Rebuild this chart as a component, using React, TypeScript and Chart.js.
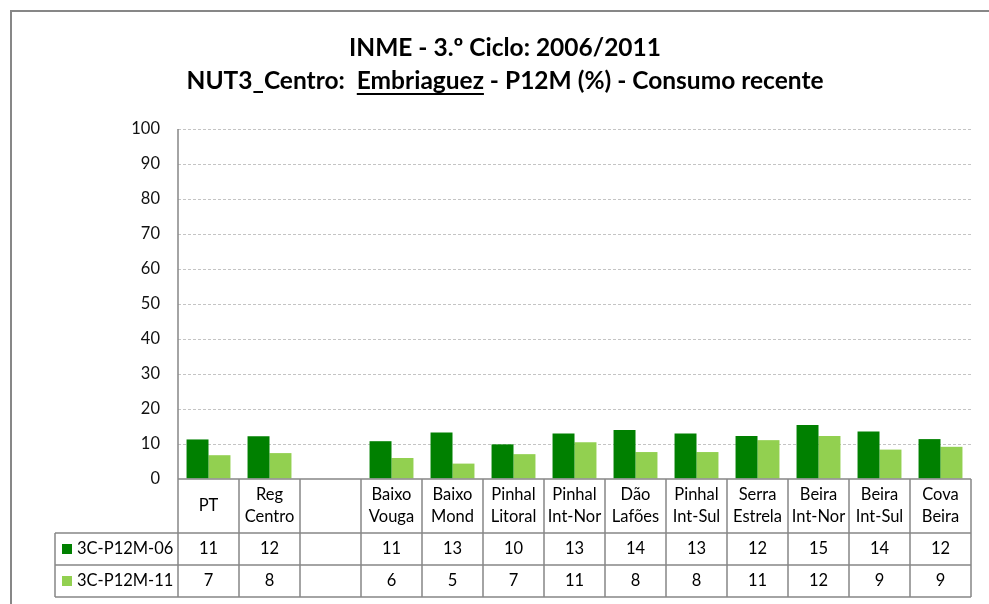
import React, { useEffect, useRef } from "react";
import { Chart, registerables } from "chart.js";

Chart.register(...registerables);

const categoryLines: string[][] = [
  ["PT"],
  ["Reg", "Centro"],
  [""],
  ["Baixo", "Vouga"],
  ["Baixo", "Mond"],
  ["Pinhal", "Litoral"],
  ["Pinhal", "Int-Nor"],
  ["Dão", "Lafões"],
  ["Pinhal", "Int-Sul"],
  ["Serra", "Estrela"],
  ["Beira", "Int-Nor"],
  ["Beira", "Int-Sul"],
  ["Cova", "Beira"],
];

const series06Name = "3C-P12M-06";
const series11Name = "3C-P12M-11";

const values06: (number | null)[] = [11.3, 12.2, null, 10.8, 13.3, 9.9, 13.0, 14.0, 13.0, 12.3, 15.4, 13.6, 11.4];
const values11: (number | null)[] = [6.8, 7.4, null, 6.0, 4.4, 7.1, 10.5, 7.7, 7.7, 11.1, 12.3, 8.4, 9.2];

const table06: string[] = ["11", "12", "", "11", "13", "10", "13", "14", "13", "12", "15", "14", "12"];
const table11: string[] = ["7", "8", "", "6", "5", "7", "11", "8", "8", "11", "12", "9", "9"];

const titleLine1 = "INME - 3.º Ciclo: 2006/2011";
const titleLine2Parts = ["NUT3_Centro:  ", "Embriaguez", " - P12M (%) - Consumo recente"];

const yTicks = { min: 0, max: 100, step: 10 };

const DARK = "#008000";
const LIGHT = "#92D050";
const LINE = "#878787";
const FONT = "Lato, 'Open Sans', sans-serif";

const W = 989;
const H = 604;

const tablePlugin = {
  id: "tablePlugin",
  afterDraw(chart: any) {
    const ctx: CanvasRenderingContext2D = chart.ctx;
    const area = chart.chartArea;
    const n = categoryLines.length;
    const cw = (area.right - area.left) / n;
    const headerBottom = area.bottom + 54;
    const row1Bottom = headerBottom + 32;
    const row2Bottom = row1Bottom + 32;
    const legendLeft = 55;

    ctx.save();
    // outer border
    ctx.strokeStyle = LINE;
    ctx.lineWidth = 2;
    ctx.beginPath();
    ctx.moveTo(11, H);
    ctx.lineTo(11, 11);
    ctx.lineTo(W, 11);
    ctx.stroke();

    // titles
    ctx.fillStyle = "#000";
    ctx.font = `bold 24.5px ${FONT}`;
    ctx.textBaseline = "middle";
    ctx.textAlign = "left";
    const cx = 505;
    const w1 = ctx.measureText(titleLine1).width;
    ctx.fillText(titleLine1, cx - w1 / 2, 48);
    const widths = titleLine2Parts.map((p) => ctx.measureText(p).width);
    const total = widths.reduce((a, b) => a + b, 0);
    let x = cx - total / 2;
    titleLine2Parts.forEach((p, i) => {
      ctx.fillText(p, x, 81);
      if (i === 1) {
        ctx.fillRect(x, 93, widths[i], 2);
      }
      x += widths[i];
    });

    // table lines
    ctx.strokeStyle = LINE;
    ctx.lineWidth = 1.5;
    ctx.beginPath();
    ctx.moveTo(area.left, area.top);
    ctx.lineTo(area.left, row2Bottom);
    ctx.moveTo(area.left, area.bottom);
    ctx.lineTo(area.right, area.bottom);
    [headerBottom, row1Bottom, row2Bottom].forEach((yy) => {
      ctx.moveTo(legendLeft, yy);
      ctx.lineTo(area.right, yy);
    });
    ctx.moveTo(legendLeft, headerBottom);
    ctx.lineTo(legendLeft, row2Bottom);
    for (let i = 1; i <= n; i++) {
      const xx = area.left + i * cw;
      ctx.moveTo(xx, area.bottom);
      ctx.lineTo(xx, row2Bottom);
    }
    ctx.stroke();

    // header labels and values
    ctx.fillStyle = "#000";
    ctx.font = `16.5px ${FONT}`;
    ctx.textAlign = "center";
    const xScale = chart.scales.x;
    categoryLines.forEach((lines, i) => {
      const xc = xScale.getPixelForValue(i);
      if (lines.length === 1) {
        ctx.fillText(lines[0], xc, (area.bottom + headerBottom) / 2);
      } else {
        ctx.fillText(lines[0], xc, area.bottom + 16);
        ctx.fillText(lines[1], xc, area.bottom + 38);
      }
      ctx.fillText(table06[i], xc, (headerBottom + row1Bottom) / 2);
      ctx.fillText(table11[i], xc, (row1Bottom + row2Bottom) / 2);
    });

    // legend keys
    ctx.textAlign = "left";
    const y1 = (headerBottom + row1Bottom) / 2;
    const y2 = (row1Bottom + row2Bottom) / 2;
    ctx.fillStyle = DARK;
    ctx.fillRect(62, y1 - 5, 10, 10);
    ctx.fillStyle = LIGHT;
    ctx.fillRect(62, y2 - 5, 10, 10);
    ctx.fillStyle = "#000";
    ctx.fillText(series06Name, 77, y1);
    ctx.fillText(series11Name, 77, y2);
    ctx.restore();
  },
};

export default function App() {
  const ref = useRef<HTMLCanvasElement>(null);
  useEffect(() => {
    if (!ref.current) return;
    const chart = new Chart(ref.current, {
      type: "bar",
      data: {
        labels: categoryLines.map((l) => l.join(" ")),
        datasets: [
          { label: series06Name, data: values06, backgroundColor: DARK, categoryPercentage: 0.72, barPercentage: 1 },
          { label: series11Name, data: values11, backgroundColor: LIGHT, categoryPercentage: 0.72, barPercentage: 1 },
        ],
      },
      options: {
        responsive: false,
        animation: false,
        devicePixelRatio: 1,
        layout: { padding: { left: 0, right: 18, top: 129, bottom: 125 } },
        plugins: { legend: { display: false }, title: { display: false }, tooltip: { enabled: false } },
        scales: {
          x: { display: false },
          y: {
            min: yTicks.min,
            max: yTicks.max,
            afterFit: (s: any) => {
              s.width = 178;
            },
            ticks: {
              stepSize: yTicks.step,
              padding: 18,
              color: "#111",
              font: { family: FONT, size: 16.5 },
            },
            grid: {
              drawTicks: false,
              color: (c: any) => (c.tick && c.tick.value === 0 ? "rgba(0,0,0,0)" : "#c4c4c4"),
              lineWidth: 1,
            },
            border: { display: false, dash: [3, 2] },
          },
        },
      },
      plugins: [tablePlugin],
    });
    return () => chart.destroy();
  }, []);
  return (
    <div style={{ position: "absolute", left: 0, top: 0, width: W, height: H, background: "#fff" }}>
      <canvas ref={ref} width={W} height={H} />
    </div>
  );
}
